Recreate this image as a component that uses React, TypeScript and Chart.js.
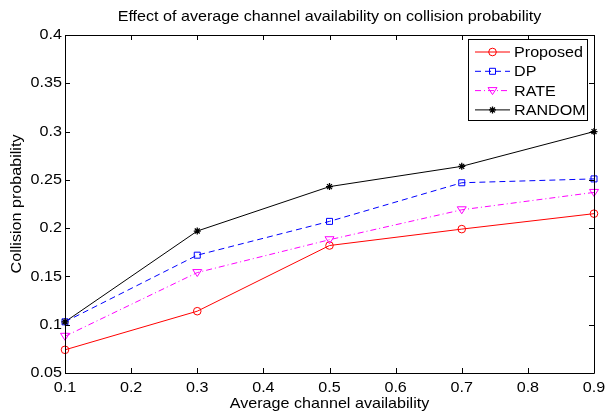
import React, { useEffect, useRef } from "react";
import { Chart, registerables } from "chart.js";

Chart.register(...registerables);

const xValues = [0.1, 0.3, 0.5, 0.7, 0.9];
const proposed = [0.074, 0.114, 0.182, 0.199, 0.215];
const dp = [0.103, 0.172, 0.207, 0.247, 0.251];
const rate = [0.088, 0.154, 0.188, 0.219, 0.237];
const random = [0.103, 0.197, 0.243, 0.264, 0.3];
const xTicks = [0.1, 0.2, 0.3, 0.4, 0.5, 0.6, 0.7, 0.8, 0.9];
const yTicks = [0.05, 0.1, 0.15, 0.2, 0.25, 0.3, 0.35, 0.4];
const seriesNames = ["Proposed", "DP", "RATE", "RANDOM"];

const FONT = "'Liberation Sans', Arial, Helvetica, sans-serif";
const STRETCH = 1.075;

type Style = { color: string; dash: number[]; marker: string };
const styles: Style[] = [
  { color: "#ff0000", dash: [], marker: "circle" },
  { color: "#0000ff", dash: [6, 4], marker: "rect" },
  { color: "#ff00ff", dash: [6, 3, 1, 3], marker: "tri" },
  { color: "#000000", dash: [], marker: "star" },
];

const fmt = (v: number) => String(Number(v.toFixed(2)));

function drawMarker(ctx: CanvasRenderingContext2D, kind: string, x: number, y: number, color: string) {
  ctx.save();
  ctx.setLineDash([]);
  ctx.strokeStyle = color;
  ctx.lineWidth = 1;
  ctx.beginPath();
  if (kind === "circle") {
    ctx.arc(x, y, 3.8, 0, Math.PI * 2);
  } else if (kind === "rect") {
    ctx.rect(x - 3, y - 3, 6, 6);
  } else if (kind === "tri") {
    ctx.moveTo(x - 4.5, y - 3);
    ctx.lineTo(x + 4.5, y - 3);
    ctx.lineTo(x, y + 4);
    ctx.closePath();
  } else if (kind === "star") {
    const r = 3.5;
    ctx.lineWidth = 1.3;
    for (let i = 0; i < 4; i++) {
      const a = (i * Math.PI) / 4;
      ctx.moveTo(x - r * Math.cos(a), y - r * Math.sin(a));
      ctx.lineTo(x + r * Math.cos(a), y + r * Math.sin(a));
    }
  }
  ctx.stroke();
  ctx.restore();
}

function text(
  ctx: CanvasRenderingContext2D,
  s: string,
  x: number,
  y: number,
  size: number,
  align: CanvasTextAlign,
  rot = 0
) {
  ctx.save();
  ctx.translate(x, y);
  if (rot) ctx.rotate(rot);
  ctx.scale(STRETCH, 1);
  ctx.font = `${size}px ${FONT}`;
  ctx.fillStyle = "#000";
  ctx.textAlign = align;
  ctx.textBaseline = "middle";
  ctx.fillText(s, 0, 0);
  ctx.restore();
}

const framePlugin = {
  id: "frameAndDecor",
  afterDatasetsDraw(chart: any) {
    const { ctx, chartArea } = chart;
    const { left, right, top, bottom } = chartArea;
    const xs = chart.scales.x;
    const ys = chart.scales.y;
    chart.data.datasets.forEach((ds: any, i: number) => {
      const st = styles[i];
      ds.data.forEach((p: any) => {
        drawMarker(ctx, st.marker, xs.getPixelForValue(p.x), ys.getPixelForValue(p.y), st.color);
      });
    });
    ctx.save();
    ctx.strokeStyle = "#000";
    ctx.lineWidth = 1;
    ctx.setLineDash([]);
    ctx.beginPath();
    ctx.rect(Math.round(left) + 0.5, Math.round(top) + 0.5, Math.round(right - left), Math.round(bottom - top));
    const tl = 5;
    xs.ticks.forEach((t: any) => {
      const px = Math.round(xs.getPixelForValue(t.value)) + 0.5;
      ctx.moveTo(px, bottom);
      ctx.lineTo(px, bottom - tl);
      ctx.moveTo(px, top);
      ctx.lineTo(px, top + tl);
    });
    ys.ticks.forEach((t: any) => {
      const py = Math.round(ys.getPixelForValue(t.value)) + 0.5;
      ctx.moveTo(left, py);
      ctx.lineTo(left + tl, py);
      ctx.moveTo(right, py);
      ctx.lineTo(right - tl, py);
    });
    ctx.stroke();
    ctx.restore();

    // tick labels from the library's scales
    xs.ticks.forEach((t: any) => {
      text(ctx, fmt(t.value), xs.getPixelForValue(t.value), bottom + 15, 15, "center");
    });
    ys.ticks.forEach((t: any) => {
      text(ctx, fmt(t.value), left - 3, ys.getPixelForValue(t.value), 15, "right");
    });

    // titles
    text(ctx, "Effect of average channel availability on collision probability", (left + right) / 2, 17, 15, "center");
    text(ctx, "Average channel availability", (left + right) / 2, 404, 15, "center");
    text(ctx, "Collision probability", 17, (top + bottom) / 2, 15, "center", -Math.PI / 2);

    // legend
    ctx.save();
    ctx.strokeStyle = "#000";
    ctx.lineWidth = 1;
    const bx = 468.5, by = 39.5, bw = 119, bh = 81;
    ctx.fillStyle = "#fff";
    ctx.fillRect(bx, by, bw, bh);
    ctx.strokeRect(bx, by, bw, bh);
    ctx.restore();
    seriesNames.forEach((name, i) => {
      const st = styles[i];
      const y = 52 + i * 19.3;
      ctx.save();
      ctx.strokeStyle = st.color;
      ctx.lineWidth = 1;
      ctx.setLineDash(st.dash);
      ctx.beginPath();
      ctx.moveTo(475, y);
      ctx.lineTo(510, y);
      ctx.stroke();
      ctx.restore();
      drawMarker(ctx, st.marker, 492.5, y, st.color);
      text(ctx, name, 514, y + 1, 15, "left");
    });
  },
};

export default function App() {
  const ref = useRef<HTMLCanvasElement>(null);
  useEffect(() => {
    document.body.style.margin = "0";
    const allSeries = [proposed, dp, rate, random];
    const chart = new Chart(ref.current!, {
      type: "line",
      data: {
        datasets: allSeries.map((vals, i) => ({
          label: seriesNames[i],
          data: vals.map((v, j) => ({ x: xValues[j], y: v })),
          borderColor: styles[i].color,
          borderWidth: 1,
          borderDash: styles[i].dash,
          pointRadius: 0,
          fill: false,
          tension: 0,
        })),
      },
      options: {
        animation: false,
        responsive: false,
        devicePixelRatio: 1,
        layout: { padding: { top: 35, right: 12, left: 0, bottom: 0 } },
        plugins: { legend: { display: false }, title: { display: false }, tooltip: { enabled: false } },
        scales: {
          x: {
            type: "linear",
            min: 0.1,
            max: 0.9,
            grid: { display: false },
            border: { display: false },
            afterBuildTicks: (s: any) => {
              s.ticks = xTicks.map((v) => ({ value: v }));
            },
            afterFit: (s: any) => {
              s.height = 43;
            },
            ticks: { display: false },
          },
          y: {
            type: "linear",
            min: 0.05,
            max: 0.4,
            grid: { display: false },
            border: { display: false },
            afterBuildTicks: (s: any) => {
              s.ticks = yTicks.map((v) => ({ value: v }));
            },
            afterFit: (s: any) => {
              s.width = 65;
            },
            ticks: { display: false },
          },
        },
      },
      plugins: [framePlugin],
    } as any);
    return () => chart.destroy();
  }, []);
  return <canvas ref={ref} width={606} height={416} style={{ display: "block" }} />;
}
